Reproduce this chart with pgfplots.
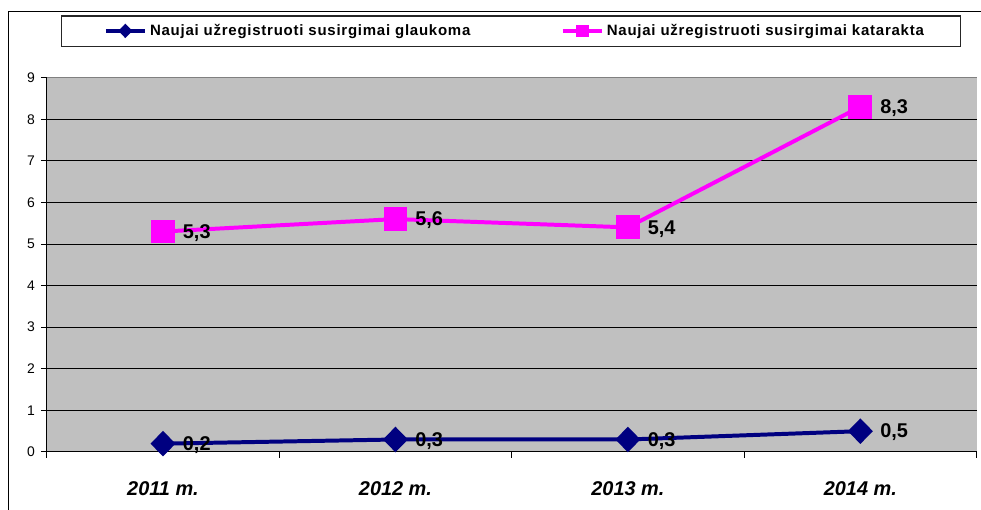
\documentclass[border=0pt]{standalone}
\usepackage{fontspec}
\setmainfont{Liberation Sans}
\usepackage{pgfplots}
\pgfplotsset{compat=1.18}
\definecolor{bgc}{HTML}{C0C0C0}
\definecolor{navyc}{HTML}{000080}
\definecolor{magc}{HTML}{FF00FF}
\begin{document}
\begin{tikzpicture}
\begin{scope}[x=0.75pt,y=-0.75pt]
\useasboundingbox (0,0) rectangle (981,512);
\fill[white] (0,0) rectangle (981,512);
\draw[black,line width=0.75pt] (9,520) -- (9,12) -- (990,12);
\end{scope}
\begin{axis}[
  scale only axis,
  width=700.5pt, height=282pt,
  at={(35.25pt,-340.5pt)}, anchor=south west,
  xmin=-0.5, xmax=3.5, ymin=0, ymax=9,
  axis x line*=bottom, axis y line*=left,
  axis line style={-, black, line width=0.75pt},
  axis background/.style={fill=bgc},
  ymajorgrids, major grid style={black, line width=0.75pt},
  ytick={0,1,...,9},
  xtick={-0.5,0.5,1.5,2.5,3.5}, xticklabels={},
  tick align=outside, major tick length=4.5pt,
  tick style={black, line width=0.75pt},
  xtick pos=bottom, ytick pos=left,
  yticklabel style={font=\fontsize{10.5}{12}\selectfont, xshift=-1pt},
  /pgf/number format/assume math mode=true,
  extra x ticks={0,1,2,3},
  extra x tick labels={2011 m.,2012 m.,2013 m.,2014 m.},
  extra x tick style={major tick length=0pt, grid=none,
     xticklabel style={font=\fontsize{15}{18}\selectfont\bfseries\itshape, anchor=center, yshift=-27.5pt}},
  nodes near coords,
  nodes near coords style={text=black, font=\fontsize{15}{18}\selectfont\bfseries, anchor=west, inner sep=0pt, xshift=13.5pt, yshift=-1pt,
     /pgf/number format/.cd, use comma, fixed, fixed zerofill, precision=1},
  legend columns=2,
  legend style={at={(0.0612,1.125)}, anchor=west, draw=none, fill=none, inner sep=0pt,
     font=\fontsize{11.3}{13}\selectfont\bfseries\addfontfeature{LetterSpace=5},
     /tikz/every odd column/.append style={column sep=0.5pt}},
  legend image code/.code={\draw[mark repeat=2,mark phase=2] plot coordinates {(0pt,0pt) (14.6pt,0pt) (29.2pt,0pt)};},
  legend image post style={mark size=3.3pt},
  clip=false,
]
\addplot[navyc, line width=3pt, mark=diamond*, mark size=7.5pt, mark options={xscale=1.3, solid}] coordinates {(0,0.2) (1,0.3) (2,0.3) (3,0.5)};
\addlegendentry{\makebox[307.5pt][l]{Naujai užregistruoti susirgimai glaukoma}}
\addplot[magc, line width=3pt, mark=square*, mark size=7.5pt] coordinates {(0,5.3) (1,5.6) (2,5.4) (3,8.3)};
\addlegendentry{Naujai užregistruoti susirgimai katarakta}
\draw[color={rgb,255:red,128;green,128;blue,128}, line width=1.2pt] (rel axis cs:0,1) -- (rel axis cs:1,1);
\end{axis}
\begin{scope}[x=0.75pt,y=-0.75pt]
\draw[black!85, line width=1pt] (62,16) rectangle (965,47);
\end{scope}
\end{tikzpicture}
\end{document}
